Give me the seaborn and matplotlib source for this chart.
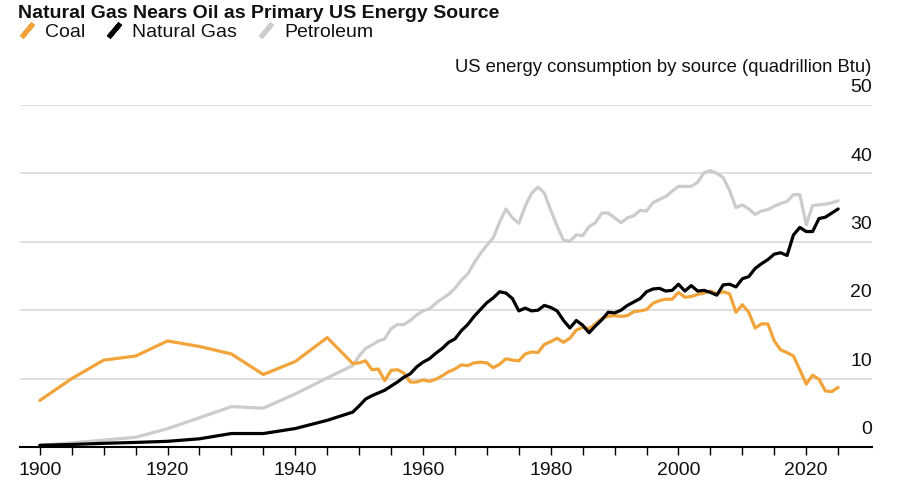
import numpy as np
import pandas as pd
import matplotlib
matplotlib.use("Agg")
import matplotlib.pyplot as plt
from matplotlib.lines import Line2D
import seaborn as sns

# -------------------------------
# Data (quadrillion Btu)
# -------------------------------
years = [1900, 1905, 1910, 1915, 1920, 1925, 1930, 1935, 1940, 1945] + list(range(1949, 2026))

coal = [6.8, 10.0, 12.7, 13.3, 15.5, 14.7, 13.6, 10.6, 12.5, 16.0,
        12.2, 12.3, 12.6, 11.3, 11.4, 9.7, 11.2, 11.3, 10.8, 9.5,
        9.5, 9.8, 9.6, 9.9, 10.4, 11.0, 11.4, 12.0, 11.9, 12.3,
        12.4, 12.3, 11.6, 12.1, 12.9, 12.7, 12.6, 13.6, 13.9, 13.8,
        15.0, 15.4, 15.9, 15.3, 15.9, 17.1, 17.5, 17.3, 18.0, 18.8,
        19.1, 19.2, 19.1, 19.2, 19.8, 19.9, 20.1, 21.0, 21.4, 21.6,
        21.6, 22.6, 21.9, 22.0, 22.3, 22.5, 22.8, 22.4, 22.7, 22.4,
        19.7, 20.8, 19.7, 17.4, 18.0, 18.0, 15.5, 14.2, 13.8, 13.3,
        11.3, 9.2, 10.5, 9.9, 8.2, 8.1, 8.7]

natural_gas = [0.25, 0.37, 0.54, 0.67, 0.83, 1.2, 1.97, 1.97, 2.7, 3.9,
               5.1, 6.0, 7.0, 7.5, 7.9, 8.3, 8.9, 9.5, 10.2, 10.7,
               11.7, 12.4, 12.9, 13.7, 14.4, 15.3, 15.8, 17.0, 17.9, 19.1,
               20.1, 21.1, 21.8, 22.7, 22.5, 21.7, 19.9, 20.3, 19.9, 20.0,
               20.7, 20.4, 19.9, 18.5, 17.4, 18.5, 17.8, 16.7, 17.7, 18.6,
               19.7, 19.6, 20.0, 20.7, 21.2, 21.7, 22.7, 23.1, 23.2, 22.8,
               22.9, 23.8, 22.8, 23.6, 22.8, 22.9, 22.6, 22.2, 23.7, 23.8,
               23.4, 24.6, 24.9, 26.1, 26.8, 27.4, 28.2, 28.4, 28.0, 31.0,
               32.1, 31.5, 31.5, 33.4, 33.6, 34.2, 34.8]

petroleum = [0.23, 0.61, 1.0, 1.42, 2.68, 4.28, 5.9, 5.68, 7.76, 10.1,
             11.9, 13.3, 14.4, 14.9, 15.5, 15.8, 17.3, 17.9, 17.9, 18.5,
             19.3, 19.9, 20.2, 21.0, 21.7, 22.3, 23.2, 24.4, 25.3, 26.9,
             28.3, 29.5, 30.6, 32.9, 34.8, 33.5, 32.7, 35.2, 37.1, 38.0,
             37.1, 34.6, 32.3, 30.2, 30.1, 31.0, 30.9, 32.2, 32.8, 34.2,
             34.2, 33.5, 32.8, 33.5, 33.8, 34.6, 34.5, 35.7, 36.2, 36.6,
             37.4, 38.1, 38.1, 38.1, 38.7, 40.1, 40.4, 40.0, 39.4, 37.5,
             35.0, 35.4, 34.8, 34.0, 34.5, 34.7, 35.2, 35.6, 35.9, 36.9,
             36.9, 32.5, 35.3, 35.4, 35.5, 35.7, 36.0]

sources = ["Coal", "Natural Gas", "Petroleum"]
colors = {"Coal": "#f2a43a", "Natural Gas": "#000000", "Petroleum": "#cccccc"}

y_ticks = [0, 10, 20, 30, 40, 50]
x_major = [1900, 1920, 1940, 1960, 1980, 2000, 2020]

df = pd.DataFrame({
    "year": years * 3,
    "value": coal + natural_gas + petroleum,
    "source": ["Coal"] * len(years) + ["Natural Gas"] * len(years) + ["Petroleum"] * len(years),
})

# -------------------------------
# Plot
# -------------------------------
sns.set_theme(style="white")
plt.rcParams["font.family"] = ["Liberation Sans", "DejaVu Sans"]

fig = plt.figure(figsize=(9, 5), dpi=100)
ax = fig.add_axes([20 / 900, 53 / 500, 852 / 900, 342 / 500])

# draw petroleum first so the darker lines sit on top
sns.lineplot(data=df, x="year", y="value", hue="source",
             hue_order=["Petroleum", "Coal", "Natural Gas"],
             palette=colors, linewidth=2.3, estimator=None,
             legend=False, ax=ax)

ax.set_xlim(1896.9, 2030.3)
ax.set_ylim(0, 50)

# gridlines with the value labels sitting just above them, right aligned
for v in y_ticks:
    if v > 0:
        ax.axhline(v, color="#d9d9d9", lw=1.2, zorder=0)
    ax.text(1.0, v + 1.3, str(v), transform=ax.get_yaxis_transform(),
            ha="right", va="bottom", fontsize=14, color="#111111")

ax.set_yticks([])
ax.set_xticks(x_major)
ax.set_xticks(list(range(1900, 2030, 5)), minor=True)
ax.tick_params(axis="x", which="both", direction="out", length=6, width=1,
               color="black", bottom=True, labelsize=14, labelcolor="#111111", pad=5)
ax.set_xlabel("")
ax.set_ylabel("")

for s in ["top", "left", "right"]:
    ax.spines[s].set_visible(False)
ax.spines["bottom"].set_color("black")
ax.spines["bottom"].set_linewidth(1.5)

fig.text(18 / 900, 1 - 18.5 / 500, "Natural Gas Nears Oil as Primary US Energy Source",
         ha="left", va="baseline", fontsize=14, fontweight="bold", color="#111111")

fig.text(871 / 900, 1 - 72 / 500, "US energy consumption by source (quadrillion Btu)",
         ha="right", va="baseline", fontsize=13.3, color="#111111")

handles = [Line2D([], [], linestyle="none", marker=(2, 2, -40), markersize=13,
                  markeredgewidth=3.5, color=colors[s]) for s in sources]
fig.legend(handles, sources, loc="center left", bbox_to_anchor=(17 / 900, 1 - 32 / 500),
           ncol=3, frameon=False, fontsize=14, handlelength=1.0,
           handletextpad=0.45, columnspacing=0.97, borderpad=0, borderaxespad=0,
           labelcolor="#111111")

fig.savefig("out.png", dpi=100)
